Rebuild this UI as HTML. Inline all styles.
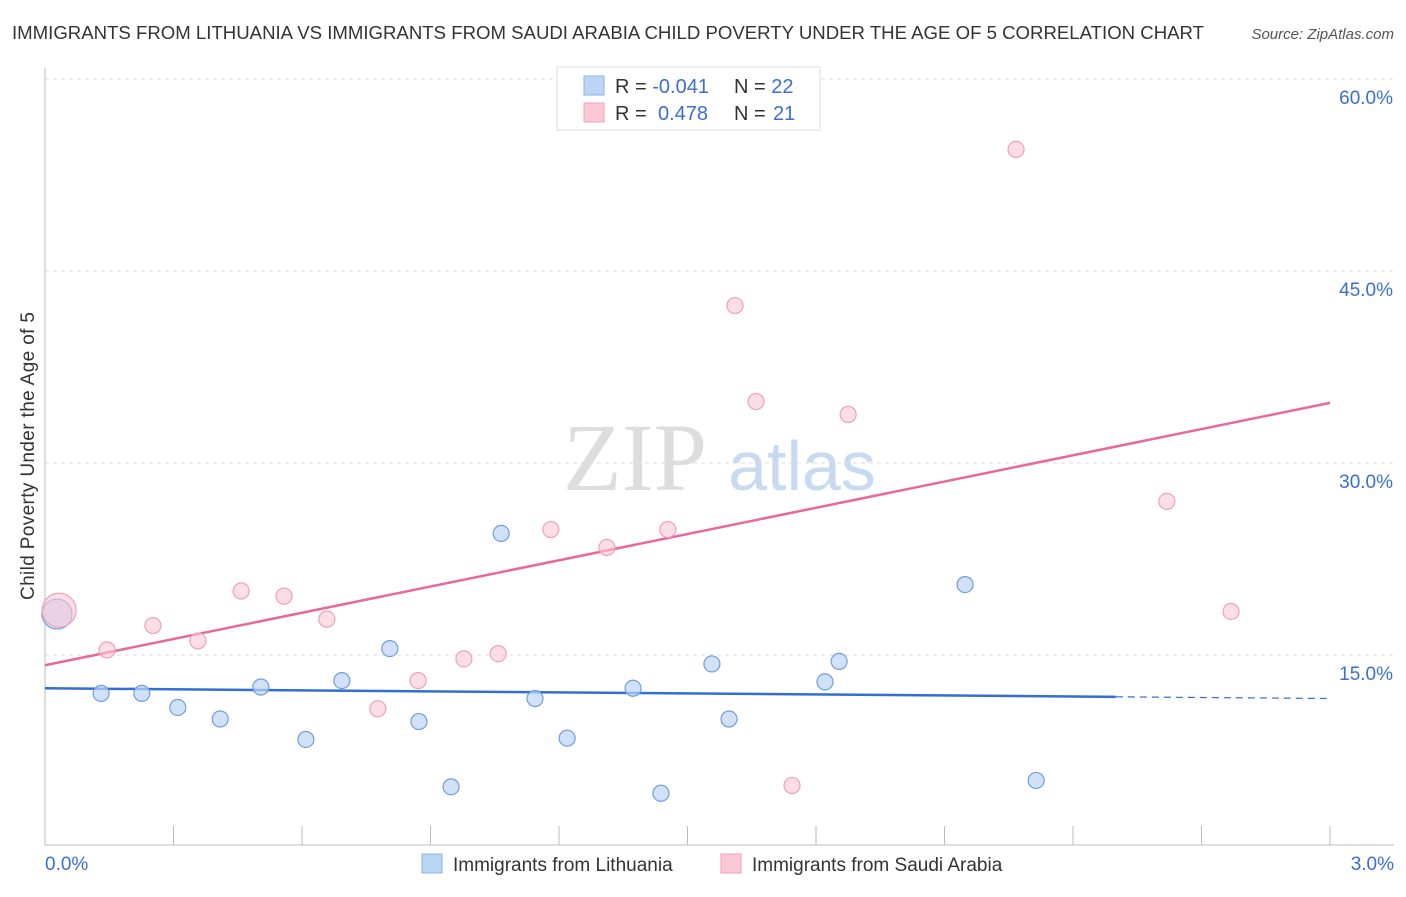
<!DOCTYPE html>
<html><head><meta charset="utf-8"><style>
body{margin:0;background:#fff;font-family:"Liberation Sans",sans-serif;}
svg text{font-family:"Liberation Sans",sans-serif;}
svg text.serif{font-family:"Liberation Serif",serif;}
</style></head><body>
<svg width="1406" height="892" viewBox="0 0 1406 892" id="chart">
<text x="12" y="39" font-size="18" fill="#333" textLength="1192" lengthAdjust="spacingAndGlyphs">IMMIGRANTS FROM LITHUANIA VS IMMIGRANTS FROM SAUDI ARABIA CHILD POVERTY UNDER THE AGE OF 5 CORRELATION CHART</text>
<text x="1394" y="39" font-size="15" font-style="italic" fill="#555" text-anchor="end">Source: ZipAtlas.com</text>
<text x="34" y="456" font-size="19" fill="#333" text-anchor="middle" textLength="288" transform="rotate(-90 34 456)">Child Poverty Under the Age of 5</text>
<g><text class="serif" x="635" y="490" font-size="96" fill="#ddd" text-anchor="middle">ZIP</text><text x="802" y="490" font-size="70" fill="#c8daf2" text-anchor="middle">atlas</text></g>
<g id="grid"></g><g id="axes"></g><g id="lines"></g><g id="pts"></g>
<g>
<rect x="557" y="67" width="263" height="63" fill="#fff" stroke="#ddd"/>
<rect x="584" y="76" width="20" height="19" fill="#bcd4f6" stroke="#8db3ea"/>
<rect x="584" y="103" width="20" height="19" fill="#fcc8d6" stroke="#f0a0b8"/>
<text x="615" y="93" font-size="20" fill="#333">R = <tspan fill="#3a6fd0">-0.041</tspan><tspan x="734">N = </tspan><tspan fill="#3a6fd0">22</tspan></text>
<text x="615" y="120" font-size="20" fill="#333">R = <tspan x="658" fill="#3a6fd0">0.478</tspan><tspan x="734">N = </tspan><tspan x="773" fill="#3a6fd0">21</tspan></text>
</g>
<g>
<rect x="422" y="854" width="20" height="19" fill="#bcd4f6" stroke="#8db3ea"/>
<text x="453" y="871" font-size="19" fill="#333">Immigrants from Lithuania</text>
<rect x="721" y="854" width="20" height="19" fill="#fcc8d6" stroke="#f0a0b8"/>
<text x="752" y="871" font-size="19" fill="#333">Immigrants from Saudi Arabia</text>
</g>
</svg>
<script>
const yTicks=[15,30,45,60];
const xTickLabels=["0.0%","3.0%"];
const blueX=[0.028,0.131,0.226,0.310,0.409,0.504,0.609,0.693,0.805,0.873,0.948,1.065,1.144,1.219,1.373,1.438,1.557,1.597,1.821,1.854,2.148,2.314];
const blueY=[18.2,12.0,12.0,10.9,10.0,12.5,8.4,13.0,15.5,9.8,4.7,24.5,11.6,8.5,12.4,4.2,14.3,10.0,12.9,14.5,20.5,5.2];
const pinkX=[0.033,0.145,0.252,0.357,0.458,0.558,0.658,0.777,0.871,0.978,1.058,1.181,1.312,1.454,1.611,1.660,1.744,1.875,2.267,2.619,2.769];
const pinkY=[18.5,15.4,17.3,16.1,20.0,19.6,17.8,10.8,13.0,14.7,15.1,24.8,23.4,24.8,42.3,34.8,4.8,33.8,54.5,27.0,18.4];
const blueTrend=[12.4,11.6];
const pinkTrend=[14.2,34.7];
const NS="http://www.w3.org/2000/svg";
const X=v=>45+v/3*1285, Y=v=>847-v/15*192;
function mk(p,t,a){const e=document.createElementNS(NS,t);for(const k in a)e.setAttribute(k,a[k]);document.getElementById(p).appendChild(e);return e;}
yTicks.forEach(t=>{
 const g=mk('grid','line',{x1:45,x2:1394,y1:Y(t),y2:Y(t),stroke:'#ddd','stroke-dasharray':'4,4'});
 
 
 const l=mk('grid','text',{x:1393,y:Y(t)+25,'font-size':19,fill:'#3a6fd0','text-anchor':'end'});l.textContent=t.toFixed(1)+'%';
 
 
});
mk('axes','line',{x1:45,x2:45,y1:68,y2:845,stroke:'#bbb'});
mk('axes','line',{x1:45,x2:1394,y1:845,y2:845,stroke:'#bbb'});
for(let i=0;i<=10;i++){mk('axes','line',{x1:X(i*0.3),x2:X(i*0.3),y1:826,y2:845,stroke:'#bbb'});}
const x0=mk('axes','text',{x:45,y:870,'font-size':19,fill:'#3a6fd0'});x0.textContent=xTickLabels[0];


const x1=mk('axes','text',{x:1394,y:870,'font-size':19,fill:'#3a6fd0','text-anchor':'end'});x1.textContent=xTickLabels[1];


const by=v=>blueTrend[0]+(blueTrend[1]-blueTrend[0])*v/3;
const bl=mk('lines','line',{x1:X(0),y1:Y(by(0)),x2:X(2.5),y2:Y(by(2.5)),stroke:'#2f6fd6','stroke-width':2.5});


mk('lines','line',{x1:X(2.5),y1:Y(by(2.5)),x2:X(3),y2:Y(by(3)),stroke:'#2f6fd6','stroke-width':1.2,'stroke-dasharray':'7,5'});
const pl=mk('lines','line',{x1:X(0),y1:Y(pinkTrend[0]),x2:X(3),y2:Y(pinkTrend[1]),stroke:'#e8689a','stroke-width':2.5});


blueX.forEach((v,i)=>{const c=mk('pts','circle',{cx:X(v),cy:Y(blueY[i]),r:i==0?15:8,fill:'#bcd4f6','fill-opacity':0.7,stroke:'#6f9de0','stroke-width':1.2});

});
pinkX.forEach((v,i)=>{const c=mk('pts','circle',{cx:X(v),cy:Y(pinkY[i]),r:i==0?17:8,fill:'#fcc8d6','fill-opacity':0.6,stroke:'#eea0b8','stroke-width':1.2});

});
</script>
</body></html>
